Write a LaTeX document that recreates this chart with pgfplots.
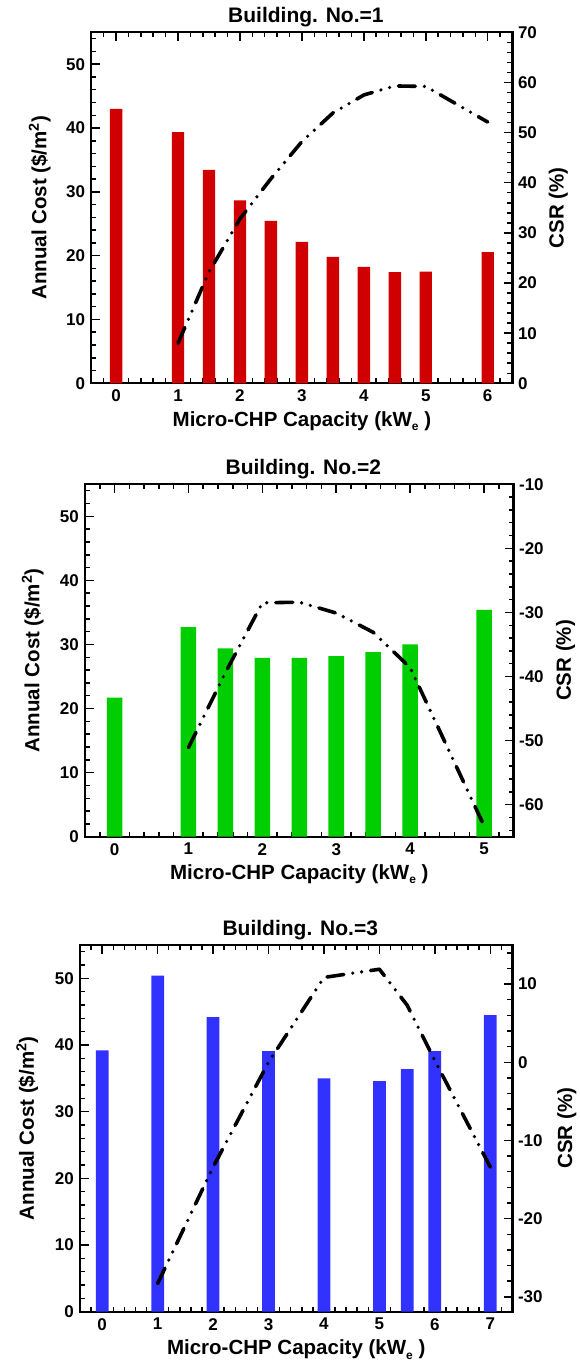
\documentclass[border=0pt]{standalone}
\usepackage{fontspec}
\setmainfont{Liberation Sans}
\usepackage{pgfplots}
\pgfplotsset{compat=1.18}
\definecolor{cred}{RGB}{208,0,0}
\definecolor{cgreen}{RGB}{0,206,0}
\definecolor{cblue}{RGB}{50,50,255}
\newcommand{\tickfont}{\fontsize{17}{17}\selectfont\bfseries}
\newcommand{\labfont}{\fontsize{20.5}{20.5}\selectfont\bfseries}
\newcommand{\titfont}{\fontsize{21}{21}\selectfont\bfseries}
\pgfplotsset{
  common/.style={
    scale only axis, anchor=south west, clip=false,
    axis line style={line width=2.3pt},
    tick style={line width=1.5pt, black},
    major tick length=8.5pt, minor tick length=5pt,
    tick label style={font=\tickfont},
    /pgf/number format/assume math mode=true,
  },
  ylab/.style={every axis y label/.style={at={(axis description cs:#1,0.5)}, rotate=90, anchor=base, font=\labfont}},
  leftax/.style={common,
    xtick pos=both, ytick pos=left, tick align=inside,
    xticklabel style={yshift=-3pt},
    yticklabel style={xshift=-2.7pt},
    ymin=0, ymax=55,
    ytick={0,10,...,50}, yticklabels={0,10,20,30,40,50},
    minor ytick={0,2,...,54},
    every axis title/.style={at={(axis description cs:0.5,1)}, anchor=base, yshift=9.5pt, xshift=4pt, font=\titfont},
    every axis x label/.style={at={(axis description cs:0.5,0)}, anchor=base, yshift=-42.8pt, font=\labfont},
    xlabel={Micro-CHP Capacity (kW\raisebox{-4.5pt}{\fontsize{12}{12}\selectfont e} )},
    ylabel={Annual Cost (\$/m\textsuperscript{2})},
  },
  rightax/.style={common,
    axis x line=none, axis y line*=right, ytick pos=right, tick align=inside,
    yticklabel style={xshift=2pt},
    ylabel={CSR (\%)},
  },
  csr/.style={black, line width=3.6pt, line cap=round, line join=round,
    dash pattern=on 17pt off 9pt on 0pt off 9pt on 0pt off 9pt},
}
\begin{document}
\begin{tikzpicture}
\useasboundingbox (0,0) rectangle (580pt,1361pt);
% ---------------- Building 1 ----------------
\begin{axis}[leftax, at={(91.3pt,977.7pt)}, width=421.2pt, height=351pt,
  xmin=-0.4, xmax=6.4, xtick={0,...,6}, minor xtick={-0.2,0,...,6.2},
  title={Building. No.=1}, ylab=-0.1068]
\addplot[ybar, bar width=0.2, fill=cred, draw=none] coordinates {
 (0,43.0) (1,39.35) (1.5,33.45) (2,28.65) (2.5,25.45) (3,22.15) (3.5,19.8) (4,18.25) (4.5,17.4) (5,17.5) (6,20.55)};
\end{axis}
\begin{axis}[rightax, at={(91.3pt,977.7pt)}, width=421.2pt, height=351pt,
  xmin=-0.4, xmax=6.4, ymin=0, ymax=70,
  ytick={0,10,...,70}, yticklabels={0,10,20,30,40,50,60,70},
  minor ytick={0,2,...,70}, ylab=1.1211]
\addplot[csr] coordinates {
 (1,8.0) (1.5,22.2) (2,32.8) (2.5,40.8) (3,48.2) (3.5,53.9) (4,57.5) (4.5,59.3) (5,59.2) (6,52.1)};
\end{axis}
% ---------------- Building 2 ----------------
\begin{axis}[leftax, at={(85pt,524.3pt)}, width=428.6pt, height=352.4pt,
  xmin=-0.4, xmax=5.4, xtick={0,...,5}, minor xtick={-0.2,0,...,5.2},
  title={Building. No.=2}, ylab=-0.1062]
\addplot[ybar, bar width=0.21, fill=cgreen, draw=none] coordinates {
 (0,21.7) (1,32.7) (1.5,29.4) (2,27.9) (2.5,27.9) (3,28.2) (3.5,28.8) (4,30.0) (5,35.4)};
\end{axis}
\begin{axis}[rightax, at={(85pt,524.3pt)}, width=428.6pt, height=352.4pt,
  xmin=-0.4, xmax=5.4, ymin=-65, ymax=-10,
  ytick={-60,-50,...,-10}, yticklabels={-60,-50,-40,-30,-20,-10},
  minor ytick={-64,-62,...,-10}, ylab=1.1339]
\addplot[csr] coordinates {
 (1,-51.1) (1.5,-39.4) (2,-28.5) (2.5,-28.4) (3,-30.1) (3.5,-33.1) (4,-38.6) (5,-63.3)};
\end{axis}
% ---------------- Building 3 ----------------
\begin{axis}[leftax, at={(80pt,49.3pt)}, width=432.5pt, height=366.7pt,
  xmin=-0.4, xmax=7.4, xtick={0,...,7}, minor xtick={-0.2,0,...,7.2},
  title={Building. No.=3}, ylab=-0.1064]
\addplot[ybar, bar width=0.23, fill=cblue, draw=none] coordinates {
 (0,39.2) (1,50.4) (2,44.2) (3,39.1) (4,35.0) (5,34.6) (5.5,36.4) (6,39.1) (7,44.5)};
\end{axis}
\begin{axis}[rightax, at={(80pt,49.3pt)}, width=432.5pt, height=366.7pt,
  xmin=-0.4, xmax=7.4, ymin=-31.9, ymax=15,
  ytick={-30,-20,...,10}, yticklabels={-30,-20,-10,0,10},
  minor ytick={-30,-28,...,14}, ylab=1.1376]
\addplot[csr] coordinates {
 (1,-28.3) (2,-13.4) (3,0.0) (4,10.85) (5,11.9) (5.5,7.3) (6,0.2) (7,-13.4)};
\end{axis}
\end{tikzpicture}
\end{document}
